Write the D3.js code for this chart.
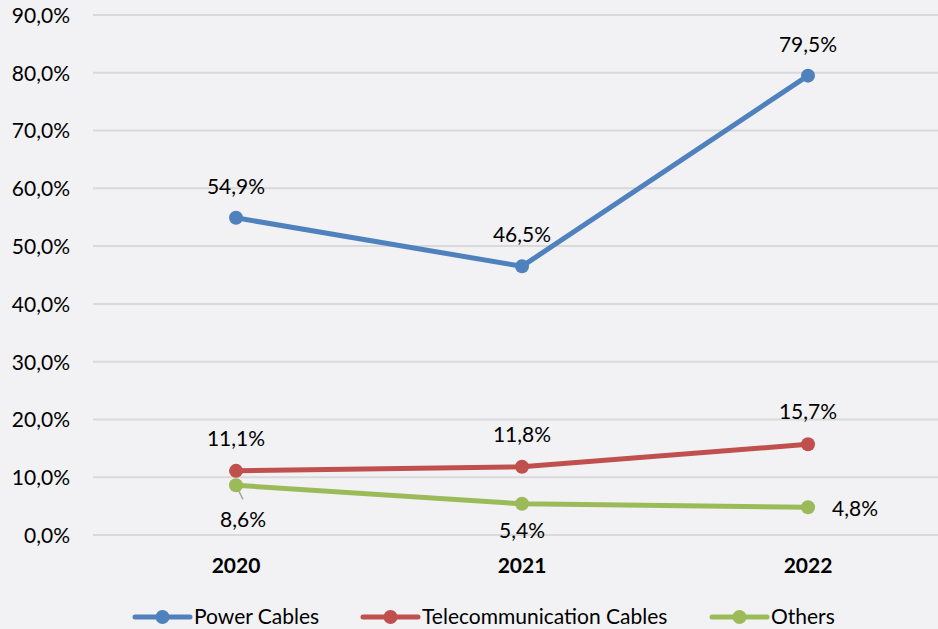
<!DOCTYPE html>
<html><head><meta charset="utf-8">
<script src="https://cdn.jsdelivr.net/npm/d3@7"></script>
<style>
html,body{margin:0;padding:0;background:#f2f2f4;}
svg{display:block;font-family:Lato,"Open Sans",sans-serif;}
</style></head>
<body><svg id="c" width="938" height="629"></svg>
<script>
const categories = ["2020","2021","2022"];
const seriesNames = ["Power Cables","Telecommunication Cables","Others"];
const powerCables = [54.9, 46.5, 79.5];
const telecomCables = [11.1, 11.8, 15.7];
const others = [8.6, 5.4, 4.8];
const yTicks = [0,10,20,30,40,50,60,70,80,90];
const colors = ["#4f81bd","#c0504d","#9bbb59"];
const labelPos = [
  [[0,-31],[0,-32],[0,-31]],
  [[0,-32],[0,-32],[0,-33]],
  [[7,34],[0,27],[47,1]]
];

const FS = 21;
const series = [powerCables, telecomCables, others];
const fmt = v => v.toFixed(1).replace(".", ",") + "%";
const svg = d3.select("#c");
const W = 938, H = 629;
svg.append("rect").attr("width",W).attr("height",H).attr("fill","#f2f2f4");

const x = d3.scaleBand().domain(categories).range([93, 951]);
const y = d3.scaleLinear().domain([0,90]).range([535, 15]);

svg.append("g").selectAll("line").data(yTicks).join("line")
  .attr("x1",93).attr("x2",W)
  .attr("y1",d=>y(d)).attr("y2",d=>y(d))
  .attr("stroke","#d9d9d9").attr("stroke-width",2);

const yAxis = d3.axisLeft(y).tickValues(yTicks).tickFormat(d=>fmt(d)).tickSize(0).tickPadding(0);
const ga = svg.append("g").attr("transform","translate(70,0)").call(yAxis);
ga.select(".domain").remove();
ga.selectAll("text").attr("font-size",FS).attr("fill","#000").attr("font-family","Lato,'Open Sans',sans-serif").attr("dy","0.35em");

const xAxis = d3.axisBottom(x).tickSize(0).tickPadding(0);
const gx = svg.append("g").attr("transform","translate(0,566)").call(xAxis);
gx.select(".domain").remove();
gx.selectAll("text").attr("font-size",FS).attr("font-weight","bold").attr("fill","#000")
  .attr("font-family","Lato,'Open Sans',sans-serif").attr("dy","0.35em");

const cx = d => x(d) + x.bandwidth()/2;
const line = d3.line().x((d,i)=>cx(categories[i])).y(d=>y(d));

svg.append("line")
  .attr("x1",cx(categories[0])+2).attr("y1",y(others[0])+4)
  .attr("x2",cx(categories[0])+7).attr("y2",y(others[0])+14)
  .attr("stroke","#a6a6a6").attr("stroke-width",1.5);

series.forEach((vals,si)=>{
  const g = svg.append("g");
  g.append("path").datum(vals).attr("d",line).attr("fill","none")
    .attr("stroke",colors[si]).attr("stroke-width",5).attr("stroke-linejoin","round");
  g.selectAll("circle").data(vals).join("circle")
    .attr("cx",(d,i)=>cx(categories[i])).attr("cy",d=>y(d)).attr("r",7).attr("fill",colors[si]);
  g.selectAll("text").data(vals).join("text")
    .attr("x",(d,i)=>cx(categories[i])+labelPos[si][i][0])
    .attr("y",(d,i)=>y(d)+labelPos[si][i][1])
    .attr("dy","0.35em").attr("text-anchor","middle")
    .attr("font-size",FS).attr("fill","#000").text(d=>fmt(d));
});

const legendX = [135, 363, 712];
seriesNames.forEach((n,i)=>{
  const g = svg.append("g").attr("transform",`translate(${legendX[i]},617)`);
  g.append("line").attr("x1",0).attr("x2",55).attr("y1",0).attr("y2",0)
    .attr("stroke",colors[i]).attr("stroke-width",5).attr("stroke-linecap","round");
  g.append("circle").attr("cx",27.5).attr("cy",0).attr("r",7).attr("fill",colors[i]);
  g.append("text").attr("x",59).attr("y",0).attr("dy","0.35em")
    .attr("font-size",FS).attr("fill","#000").text(n);
});
</script></body></html>
